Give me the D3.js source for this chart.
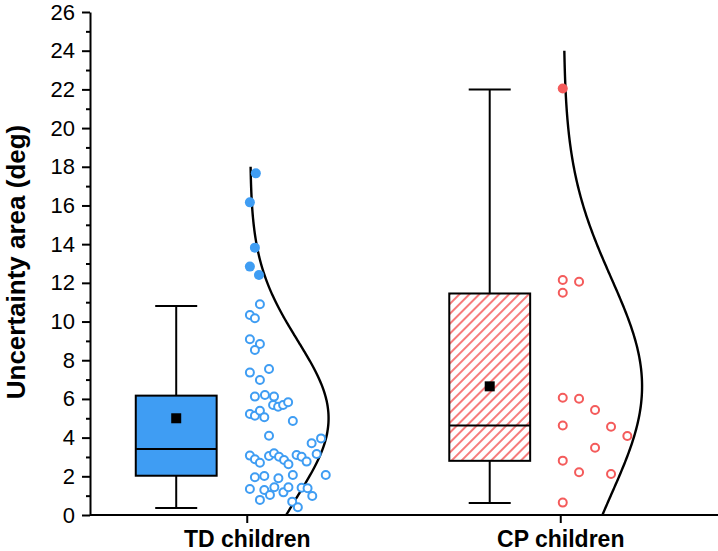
<!DOCTYPE html>
<html><head><meta charset="utf-8">
<script src="https://cdn.jsdelivr.net/npm/d3@7/dist/d3.min.js"></script>
<style>body{margin:0;background:#fff}svg{display:block}</style>
</head><body><svg id="c" width="718" height="551"></svg>
<script>
// ---------- data ----------
const categories = ["TD children", "CP children"];
const yTicks = [0, 2, 4, 6, 8, 10, 12, 14, 16, 18, 20, 22, 24, 26];
const yMinorTicks = [1, 3, 5, 7, 9, 11, 13, 15, 17, 19, 21, 23, 25];
const yTitle = "Uncertainty area (deg)";

// box statistics per category (TD, CP)
const boxLow    = [0.36, 0.62];
const boxQ1     = [2.03, 2.80];
const boxMedian = [3.41, 4.63];
const boxQ3     = [6.17, 11.45];
const boxHigh   = [10.80, 22.00];
const boxMean   = [5.00, 6.65];

// raw points: [jitter (category units), value]
const tdOpen = [
  [0.042,10.89],[0.010,10.34],[0.026,10.17],[0.010,9.08],[0.042,8.84],[0.026,8.53],
  [0.010,7.36],[0.071,7.55],[0.042,6.98],[0.026,6.12],[0.058,6.20],[0.087,6.12],
  [0.084,5.69],[0.100,5.60],[0.116,5.69],[0.132,5.83],[0.010,5.22],[0.026,5.13],
  [0.042,5.39],[0.056,5.05],[0.147,4.86],[0.071,4.10],[0.237,3.96],[0.207,3.71],
  [0.223,3.15],[0.010,3.07],[0.026,2.88],[0.042,2.70],[0.071,3.05],[0.087,3.19],
  [0.103,3.01],[0.119,2.84],[0.133,2.62],[0.159,3.10],[0.175,3.01],[0.191,2.76],
  [0.026,1.95],[0.056,2.02],[0.101,1.90],[0.147,2.07],[0.252,2.07],[0.010,1.34],
  [0.056,1.29],[0.074,1.03],[0.088,1.43],[0.117,1.17],[0.133,1.43],[0.175,1.41],
  [0.194,1.38],[0.209,0.98],[0.042,0.78],[0.145,0.69],[0.163,0.40]
];
const tdFilled = [[0.029,17.66],[0.010,16.16],[0.026,13.82],[0.010,12.84],[0.039,12.41]];
const cpOpen = [
  [0.008,12.15],[0.060,12.06],[0.008,11.49],[0.008,6.06],[0.060,6.01],[0.111,5.43],
  [0.008,4.63],[0.162,4.56],[0.214,4.08],[0.111,3.48],[0.008,2.81],[0.060,2.21],
  [0.162,2.12],[0.008,0.64]
];
const cpFilled = [[0.008,22.05]];

// range over which the fitted normal curve is drawn
const curveRange = [[0, 18], [0, 24]];

// ---------- drawing ----------
const W = 718, H = 551;
const svg = d3.select("#c");
const FONT = "'Liberation Sans', Arial, Helvetica, sans-serif";
const BLUE = "#3f9df3", RED = "#f45b5b";
const colors = [BLUE, RED];

const x = d3.scaleLinear().domain([0.5, 2.5]).range([90, 717]);
const y = d3.scaleLinear().domain([0, 26]).range([515, 12]);

const defs = svg.append("defs");
const pat = defs.append("pattern").attr("id","hatch").attr("patternUnits","userSpaceOnUse")
  .attr("width",7).attr("height",7).attr("patternTransform","rotate(45)");
pat.append("rect").attr("width",7).attr("height",7).attr("fill","#fff");
pat.append("line").attr("x1",1).attr("y1",0).attr("x2",1).attr("y2",7)
  .attr("stroke",RED).attr("stroke-width",1.6);

const BOX_OFF = -0.225, BOX_HW = 0.129, CAP_HW = 0.067;

// boxes
categories.forEach((c, i) => {
  const cx = i + 1 + BOX_OFF;
  const g = svg.append("g");
  g.append("line").attr("x1", x(cx)).attr("x2", x(cx)).attr("y1", y(boxQ3[i])).attr("y2", y(boxHigh[i]))
    .attr("stroke","#000").attr("stroke-width",2);
  g.append("line").attr("x1", x(cx)).attr("x2", x(cx)).attr("y1", y(boxQ1[i])).attr("y2", y(boxLow[i]))
    .attr("stroke","#000").attr("stroke-width",2);
  [boxHigh[i], boxLow[i]].forEach(v => {
    g.append("line").attr("x1", x(cx - CAP_HW)).attr("x2", x(cx + CAP_HW)).attr("y1", y(v)).attr("y2", y(v))
      .attr("stroke","#000").attr("stroke-width",2);
  });
  g.append("rect").attr("x", x(cx - BOX_HW)).attr("width", x(cx + BOX_HW) - x(cx - BOX_HW))
    .attr("y", y(boxQ3[i])).attr("height", y(boxQ1[i]) - y(boxQ3[i]))
    .attr("fill", i === 0 ? BLUE : "url(#hatch)").attr("stroke","#000").attr("stroke-width",2);
  g.append("line").attr("x1", x(cx - BOX_HW)).attr("x2", x(cx + BOX_HW)).attr("y1", y(boxMedian[i])).attr("y2", y(boxMedian[i]))
    .attr("stroke","#000").attr("stroke-width",2);
  g.append("rect").attr("x", x(cx) - 5).attr("y", y(boxMean[i]) - 5).attr("width",10).attr("height",10).attr("fill","#000");
});

// fitted normal curves (mean / SD of each group's points)
const groups = [[...tdOpen, ...tdFilled], [...cpOpen, ...cpFilled]];
const CURVE_OFF = 0.011, CURVE_W = 0.25;
groups.forEach((pts, i) => {
  const vals = pts.map(d => d[1]);
  const mu = d3.mean(vals), sd = d3.deviation(vals);
  const [a, b] = curveRange[i];
  const samples = d3.range(a, b + 1e-9, (b - a) / 200);
  const line = d3.line()
    .x(v => x(i + 1 + CURVE_OFF + CURVE_W * Math.exp(-((v - mu) ** 2) / (2 * sd * sd))))
    .y(v => y(v)).curve(d3.curveBasis);
  svg.append("path").attr("d", line(samples)).attr("fill","none").attr("stroke","#000").attr("stroke-width",2.4);
});

// points
const openSets = [tdOpen, cpOpen], filledSets = [tdFilled, cpFilled];
openSets.forEach((pts, i) => {
  svg.append("g").selectAll("circle").data(pts).join("circle")
    .attr("cx", d => x(i + 1 + d[0])).attr("cy", d => y(d[1])).attr("r", 4)
    .attr("fill","#fff").attr("stroke", colors[i]).attr("stroke-width", 2);
});
filledSets.forEach((pts, i) => {
  svg.append("g").selectAll("circle").data(pts).join("circle")
    .attr("cx", d => x(i + 1 + d[0])).attr("cy", d => y(d[1])).attr("r", 5)
    .attr("fill", colors[i]);
});

// axes
const yAxis = svg.append("g").attr("transform", `translate(${x(0.5)},0)`)
  .call(d3.axisLeft(y).tickValues(yTicks).tickSize(8).tickSizeOuter(0).tickPadding(7));
const yMinor = svg.append("g").attr("transform", `translate(${x(0.5)},0)`)
  .call(d3.axisLeft(y).tickValues(yMinorTicks).tickSize(4).tickFormat(""));
yMinor.select(".domain").remove();
[yAxis, yMinor].forEach(g => {
  g.selectAll("path,line").attr("stroke","#000").attr("stroke-width",2);
});
yAxis.selectAll("text").attr("font-family", FONT).attr("font-size", 22).attr("fill","#000");

const xAxis = svg.append("g").attr("transform", `translate(0,${y(0)})`)
  .call(d3.axisBottom(x).tickValues([1, 2]).tickFormat(d => categories[d - 1]).tickSize(8).tickSizeOuter(0).tickPadding(8));
xAxis.select(".domain").attr("d", `M${x(0.5)},0H${W}`);
xAxis.selectAll("path,line").attr("stroke","#000").attr("stroke-width",2);
xAxis.selectAll("text").attr("font-family", FONT).attr("font-size", 23).attr("font-weight","bold").attr("fill","#000");

svg.append("text").attr("transform", `translate(25,262) rotate(-90)`)
  .attr("text-anchor","middle").attr("font-family", FONT).attr("font-size", 26).attr("font-weight","bold")
  .text(yTitle);
</script></body></html>
